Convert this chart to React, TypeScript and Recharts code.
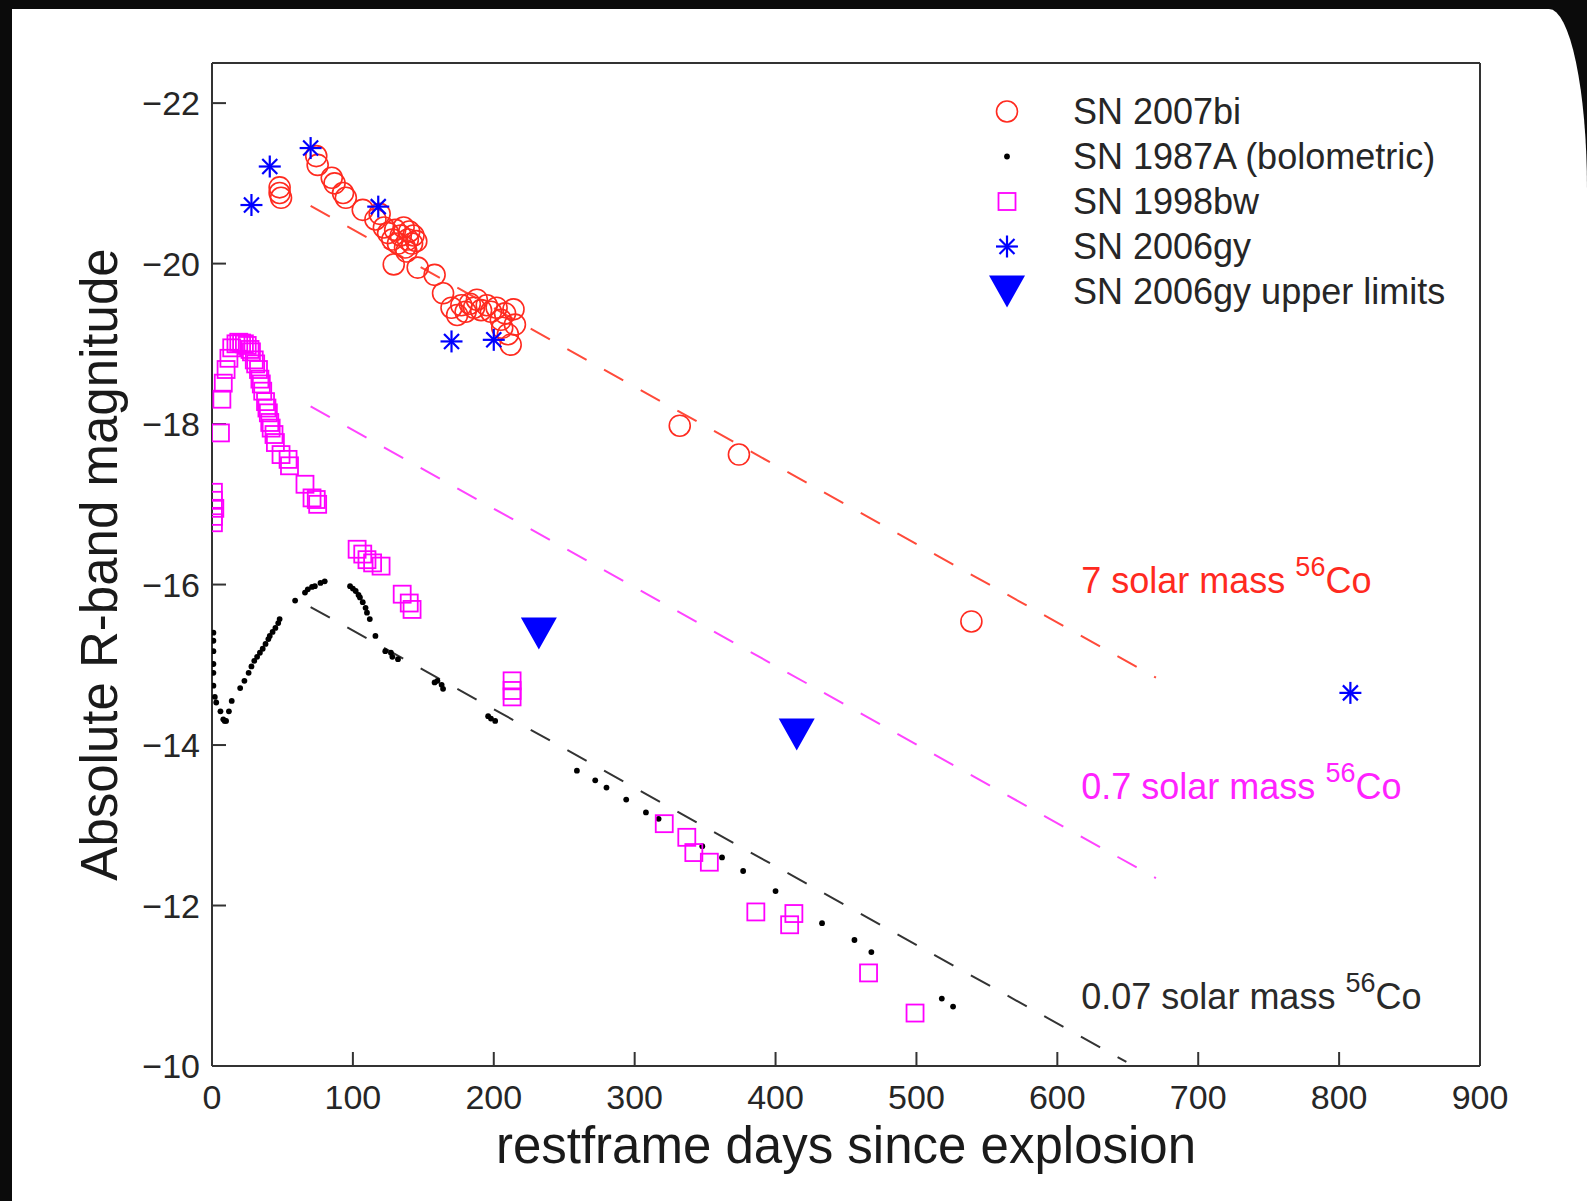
import React from 'react';
import { ScatterChart, Scatter, XAxis, YAxis } from 'recharts';

// axis ticks
const xTicks = [0, 100, 200, 300, 400, 500, 600, 700, 800, 900];
const yTicks = [-22, -20, -18, -16, -14, -12, -10];

// [restframe day, absolute magnitude]
const sn2007bi: [number, number][] = [
  [48, -20.95], [48, -20.88], [49, -20.82],
  [74, -21.34], [75, -21.23], [85, -21.07], [87, -21.0], [93, -20.88], [95, -20.82],
  [107, -20.67], [116, -20.55], [119, -20.62], [122, -20.45], [125, -20.38], [128, -20.3],
  [130, -20.42], [132, -20.25], [134, -20.35], [136, -20.45], [137, -20.2], [139, -20.3],
  [140, -20.4], [142, -20.25], [143, -20.35], [145, -20.28], [138, -20.15], [129, -19.99],
  [146, -19.95], [158, -19.86], [164, -19.63], [170, -19.45], [174, -19.36], [177, -19.48],
  [180, -19.4], [183, -19.5], [186, -19.45], [188, -19.55], [191, -19.42], [195, -19.48],
  [198, -19.4], [202, -19.45], [205, -19.3], [208, -19.38], [214, -19.43], [215, -19.24],
  [210, -19.12], [212, -18.99], [206, -19.2],
  [332, -17.98], [374, -17.62], [539, -15.54],
];

const sn1987a: [number, number][] = [
  [1, -15.4], [1, -15.3], [1, -15.17], [1, -15.01], [1, -14.9], [1, -14.74], [2, -14.6], [3, -14.53],
  [6, -14.42], [8, -14.32], [9, -14.3], [10, -14.3], [12, -14.42], [14, -14.55],
  [20, -14.71], [23, -14.8], [26, -14.9], [28, -14.98], [30, -15.05], [32, -15.1], [34, -15.15],
  [36, -15.2], [38, -15.26], [40, -15.32], [41, -15.36], [43, -15.41], [45, -15.46], [47, -15.52],
  [48, -15.57], [59, -15.8], [66, -15.9], [68, -15.94], [71, -15.97], [73, -15.98], [77, -16.02],
  [80, -16.04], [98, -15.98], [100, -15.95], [102, -15.92], [104, -15.87], [105, -15.84],
  [107, -15.78], [109, -15.71], [110, -15.65], [112, -15.57], [116, -15.36],
  [123, -15.17], [127, -15.15], [128, -15.1], [132, -15.07],
  [158, -14.78], [160, -14.8], [163, -14.75], [164, -14.7],
  [196, -14.36], [198, -14.33], [201, -14.3],
  [259, -13.68], [272, -13.56], [280, -13.47], [294, -13.32], [308, -13.16], [317, -13.08],
  [348, -12.74], [362, -12.6], [377, -12.43], [400, -12.18], [433, -11.78], [456, -11.57],
  [468, -11.42], [518, -10.84], [526, -10.74],
];

const sn1998bw: [number, number][] = [
  [1, -17.15], [1, -17.05], [2, -16.95], [1, -16.85], [1, -16.77],
  [6, -17.89], [7, -18.31], [8, -18.51], [10, -18.68], [12, -18.82], [14, -18.95], [17, -19.0],
  [19, -19.02], [21, -19.01], [23, -19.0], [25, -18.98], [27, -18.93], [28, -18.9], [30, -18.8],
  [31, -18.75], [33, -18.68], [34, -18.56], [35, -18.5], [36, -18.41], [38, -18.28], [39, -18.2],
  [40, -18.14], [41, -18.02], [42, -17.95], [44, -17.87], [45, -17.77],
  [49, -17.62], [54, -17.56], [55, -17.48], [66, -17.25], [71, -17.08], [74, -17.06], [75, -17.0],
  [103, -16.44], [107, -16.38], [110, -16.31], [114, -16.27], [120, -16.23],
  [135, -15.88], [140, -15.77], [142, -15.69],
  [213, -14.8], [213, -14.68], [213, -14.6],
  [321, -13.02], [337, -12.85], [342, -12.66], [353, -12.54], [386, -11.92], [413, -11.9],
  [410, -11.76], [466, -11.16], [499, -10.66],
];

const sn2006gy: [number, number][] = [
  [28, -20.73], [41, -21.21], [70, -21.44], [118, -20.71], [170, -19.03], [200, -19.05], [808, -14.65],
];

const sn2006gyLimits: [number, number][] = [
  [232, -15.39], [415, -14.13],
];

// 56Co decay lines
const co7: [number, number][] = [[70, -20.72], [670, -14.84]];
const co07: [number, number][] = [[70, -18.22], [670, -12.34]];
const co007: [number, number][] = [[70, -15.72], [649, -10.05]];

// text labels next to the decay lines
const coLabels = [
  { x: 617, y: -15.9, text: '7 solar mass ' },
  { x: 617, y: -13.33, text: '0.7 solar mass ' },
  { x: 617, y: -10.71, text: '0.07 solar mass ' },
];
const coLabelColors = ['#ff2a1f', '#ff22ff', '#2a2a2a'];

const RED = '#ff2a1f';
const MAGENTA = '#ff00ff';
const BLUE = '#0000ff';
const FONT = '"Liberation Sans", Arial, Helvetica, sans-serif';

const pts = (arr: [number, number][]) => arr.map(([x, y]) => ({ x, y }));

const CircleMark = ({ cx, cy }: any) => (
  <circle cx={cx} cy={cy} r={10.5} fill="none" stroke={RED} strokeWidth={1.6} />
);
const DotMark = ({ cx, cy }: any) => <circle cx={cx} cy={cy} r={2.9} fill="#000" />;
const SquareMark = ({ cx, cy }: any) => (
  <rect x={cx - 8.5} y={cy - 8.5} width={17} height={17} fill="none" stroke={MAGENTA} strokeWidth={1.8} />
);
const StarMark = ({ cx, cy }: any) => {
  const r = 11;
  const d = 7.5;
  return (
    <g stroke={BLUE} strokeWidth={2.2}>
      <line x1={cx} y1={cy - r} x2={cx} y2={cy + r} />
      <line x1={cx - r} y1={cy} x2={cx + r} y2={cy} />
      <line x1={cx - d} y1={cy - d} x2={cx + d} y2={cy + d} />
      <line x1={cx - d} y1={cy + d} x2={cx + d} y2={cy - d} />
    </g>
  );
};
const TriangleMark = ({ cx, cy }: any) => (
  <polygon points={`${cx - 18},${cy - 16} ${cx + 18},${cy - 16} ${cx},${cy + 16}`} fill={BLUE} />
);
const NoMark = () => <g />;

const CoLabel = ({ cx, cy, payload, index }: any) => (
  <text x={cx} y={cy} fontSize={36} fontFamily={FONT} fill={coLabelColors[index]} style={{ whiteSpace: 'pre' }}>
    {payload.text}
    <tspan fontSize={27} dy={-17}>56</tspan>
    <tspan dy={17}>Co</tspan>
  </text>
);

const legendRows = [
  { label: 'SN 2007bi', Mark: CircleMark },
  { label: 'SN 1987A (bolometric)', Mark: DotMark },
  { label: 'SN 1998bw', Mark: SquareMark },
  { label: 'SN 2006gy', Mark: StarMark },
  { label: 'SN 2006gy upper limits', Mark: TriangleMark },
];

const ChartLegend = () => (
  <div style={{ position: 'absolute', left: 985, top: 89, fontFamily: FONT, fontSize: 36, color: '#262626' }}>
    {legendRows.map(({ label, Mark }) => (
      <div key={label} style={{ display: 'flex', alignItems: 'center', height: 45 }}>
        <svg width={44} height={45}>
          <Mark cx={22} cy={22.5} />
        </svg>
        <span style={{ marginLeft: 44, whiteSpace: 'nowrap' }}>{label}</span>
      </div>
    ))}
  </div>
);

const tickStyle = { fontSize: 34, fill: '#262626', fontFamily: FONT };
const axisLine = { stroke: '#333', strokeWidth: 2 };

export default function App() {
  return (
    <div style={{ position: 'absolute', left: 0, top: 0, width: 1587, height: 1201, background: '#0b0b0b', overflow: 'hidden' }}>
      <div
        style={{
          position: 'absolute',
          left: 12,
          top: 9,
          right: 0,
          bottom: 0,
          background: '#fff',
          borderTopRightRadius: '38px 180px',
        }}
      />
      <div style={{ position: 'absolute', left: 0, top: 0 }}>
        <ScatterChart width={1587} height={1201} margin={{ top: 62, right: 106, bottom: 35, left: 112 }}>
          <XAxis
            type="number"
            dataKey="x"
            domain={[0, 900]}
            ticks={xTicks}
            allowDataOverflow
            height={100}
            tickSize={-14}
            tickMargin={33}
            tick={tickStyle}
            axisLine={axisLine}
            tickLine={axisLine}
            label={{ value: 'restframe days since explosion', position: 'insideBottom', offset: 3, fontSize: 51, fill: '#1a1a1a', fontFamily: FONT }}
          />
          <XAxis
            xAxisId="top"
            orientation="top"
            type="number"
            dataKey="x"
            domain={[0, 900]}
            ticks={xTicks}
            allowDataOverflow
            height={1}
            tickSize={-14}
            tick={false}
            axisLine={axisLine}
            tickLine={axisLine}
          />
          <YAxis
            type="number"
            dataKey="y"
            domain={[-22.5, -10]}
            ticks={yTicks}
            reversed
            allowDataOverflow
            width={100}
            tickSize={-14}
            tickMargin={26}
            tick={tickStyle}
            tickFormatter={(v: number) => `\u2212${Math.abs(v)}`}
            axisLine={axisLine}
            tickLine={axisLine}
            label={{ value: 'Absolute R-band magnitude', angle: -90, position: 'left', offset: 13, fontSize: 51, fill: '#1a1a1a', fontFamily: FONT, style: { textAnchor: 'middle' } }}
          />
          <YAxis
            yAxisId="right"
            orientation="right"
            type="number"
            dataKey="y"
            domain={[-22.5, -10]}
            ticks={yTicks}
            reversed
            allowDataOverflow
            width={1}
            tickSize={-14}
            tick={false}
            axisLine={axisLine}
            tickLine={axisLine}
          />

          <Scatter data={pts(co7)} shape={NoMark} line={{ stroke: '#ff4a3a', strokeWidth: 2, strokeDasharray: '22 20' }} isAnimationActive={false} />
          <Scatter data={pts(co07)} shape={NoMark} line={{ stroke: '#ff44ff', strokeWidth: 2, strokeDasharray: '22 20' }} isAnimationActive={false} />
          <Scatter data={pts(co007)} shape={NoMark} line={{ stroke: '#333', strokeWidth: 2, strokeDasharray: '22 20' }} isAnimationActive={false} />

          <Scatter name="SN 2007bi" data={pts(sn2007bi)} shape={CircleMark} isAnimationActive={false} />
          <Scatter name="SN 1987A (bolometric)" data={pts(sn1987a)} shape={DotMark} isAnimationActive={false} />
          <Scatter name="SN 1998bw" data={pts(sn1998bw)} shape={SquareMark} isAnimationActive={false} />
          <Scatter name="SN 2006gy" data={pts(sn2006gy)} shape={StarMark} isAnimationActive={false} />
          <Scatter name="SN 2006gy upper limits" data={pts(sn2006gyLimits)} shape={TriangleMark} isAnimationActive={false} />

          <Scatter data={coLabels} shape={CoLabel} isAnimationActive={false} />
        </ScatterChart>
      </div>
      <ChartLegend />
    </div>
  );
}
